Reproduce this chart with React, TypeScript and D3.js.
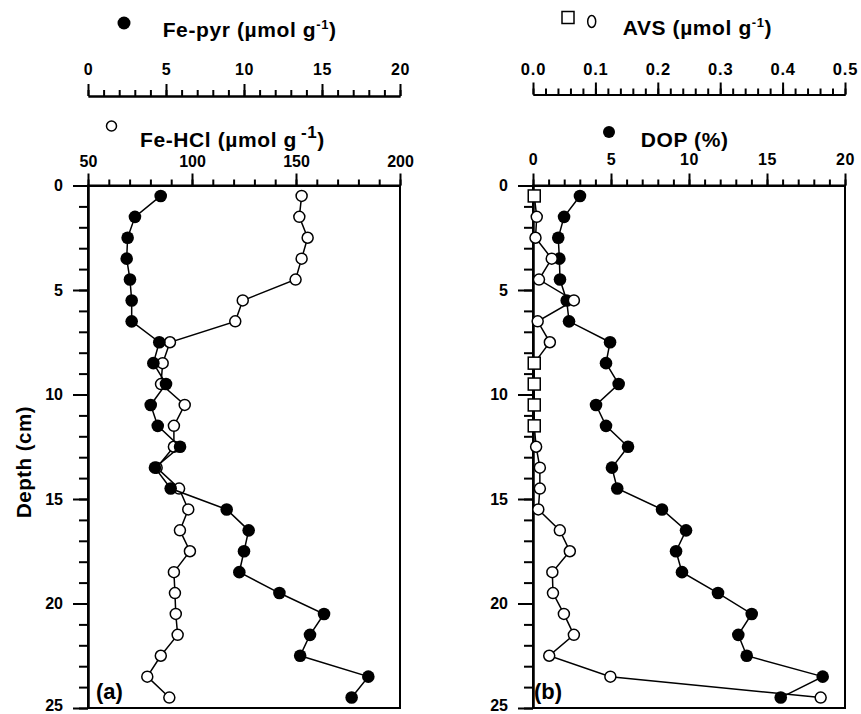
import React, { useEffect, useRef } from 'react';
import * as d3 from 'd3';

// sample depths (cm)
const depths = [0.5, 1.5, 2.5, 3.5, 4.5, 5.5, 6.5, 7.5, 8.5, 9.5, 10.5, 11.5, 12.5, 13.5, 14.5, 15.5, 16.5, 17.5, 18.5, 19.5, 20.5, 21.5, 22.5, 23.5, 24.5];

// panel (a)
const fePyr = [4.66, 3.01, 2.54, 2.48, 2.69, 2.8, 2.8, 4.57, 4.19, 5.0, 4.02, 4.47, 5.9, 4.29, 5.3, 8.89, 10.3, 10.0, 9.7, 12.27, 15.13, 14.23, 13.6, 17.97, 16.9];
const feHcl = [152.7, 151.6, 155.6, 152.7, 149.8, 124.4, 120.8, 89.4, 85.9, 85.1, 96.5, 91.3, 91.3, 83, 93.8, 98.2, 94.2, 99, 91.3, 91.8, 92.2, 93.1, 85, 78.5, 89.1];

// panel (b)
const dop = [3.01, 1.99, 1.62, 1.69, 1.73, 2.16, 2.31, 4.94, 4.68, 5.49, 4.04, 4.68, 6.09, 5.06, 5.4, 8.27, 9.81, 9.17, 9.55, 11.86, 14.02, 13.16, 13.7, 18.57, 15.88];
const avs = [0.002, 0.006, 0.004, 0.03, 0.0096, 0.0655, 0.0075, 0.027, 0.002, 0.002, 0.002, 0.002, 0.005, 0.011, 0.011, 0.0085, 0.043, 0.059, 0.031, 0.032, 0.0495, 0.0655, 0.026, 0.124, 0.461];
// squares = below detection limit
const avsBelowDl = [true, false, false, false, false, false, false, false, true, true, true, true, false, false, false, false, false, false, false, false, false, false, false, false, false];

const depthTicks = [0, 5, 10, 15, 20, 25];
const fePyrTicks = [0, 5, 10, 15, 20];
const feHclTicks = [50, 100, 150, 200];
const avsTicks = [0, 0.1, 0.2, 0.3, 0.4, 0.5];
const dopTicks = [0, 5, 10, 15, 20];

const W = 861;
const H = 714;
const FONT = '"Liberation Sans", Arial, sans-serif';

const App = () => {
  const svgRef = useRef<SVGSVGElement>(null);

  useEffect(() => {
    const svg = d3.select(svgRef.current);
    svg.selectAll('*').remove();
    svg.attr('font-family', FONT).attr('font-weight', 'bold');

    const top = 185.5;
    const bottom = 708;
    const yScale = d3.scaleLinear().domain([0, 25]).range([top, bottom]);

    const styleAxis = (g, size, spacing = 0) => {
      g.selectAll('path, line').attr('stroke', '#000').attr('stroke-width', 2);
      g.selectAll('text')
        .attr('fill', '#000')
        .attr('letter-spacing', spacing)
        .style('font-family', FONT)
        .style('font-weight', 'bold')
        .style('font-size', `${size}px`);
      g.attr('font-family', null).attr('font-size', null);
    };

    // axis with minor and major ticks
    const drawAxis = (parent, axisFn, scale, majors, minors, majorSize, minorSize, pad, fmt, tx, ty, size = 16, spacing = 0) => {
      const gMin = parent.append('g').attr('transform', `translate(${tx},${ty})`);
      gMin.call(axisFn(scale).tickValues(minors).tickSize(minorSize).tickSizeOuter(0).tickFormat(() => ''));
      styleAxis(gMin, size);
      const gMaj = parent.append('g').attr('transform', `translate(${tx},${ty})`);
      gMaj.call(axisFn(scale).tickValues(majors).tickSize(majorSize).tickSizeOuter(0).tickPadding(pad).tickFormat(fmt));
      styleAxis(gMaj, size, spacing);
      return gMaj;
    };

    const title = (x, y, main, sup, supSize, supDy, supDx, tail) => {
      const t = svg.append('text')
        .attr('x', x)
        .attr('y', y)
        .attr('font-size', 21)
        .attr('letter-spacing', 0.6)
        .attr('fill', '#000');
      t.append('tspan').text(main);
      if (sup) {
        t.append('tspan').attr('dx', supDx).attr('dy', -supDy).attr('font-size', supSize).text(sup);
        t.append('tspan').attr('dy', supDy).text(tail);
      }
    };

    const filled = (g, x, y, r) => g.append('circle').attr('cx', x).attr('cy', y).attr('r', r).attr('fill', '#000');
    const open = (g, x, y, r) => g.append('circle').attr('cx', x).attr('cy', y).attr('r', r)
      .attr('fill', '#fff').attr('stroke', '#000').attr('stroke-width', 1.5);

    const drawSeries = (g, values, xScale, marker) => {
      const line = d3.line<number>()
        .x((d) => xScale(d))
        .y((d, i) => yScale(depths[i]));
      g.append('path')
        .attr('d', line(values))
        .attr('fill', 'none')
        .attr('stroke', '#000')
        .attr('stroke-width', 1.5);
      values.forEach((v, i) => marker(g, xScale(v), yScale(depths[i]), i));
    };

    // ---------- panel (a)
    const aL = 88, aR = 400;
    const xPyr = d3.scaleLinear().domain([0, 20]).range([aL, aR]);
    const xHcl = d3.scaleLinear().domain([50, 200]).range([aL, aR]);

    // ---------- panel (b)
    const bL = 533, bR = 845;
    const xDop = d3.scaleLinear().domain([0, 20]).range([bL, bR]);
    const xAvs = d3.scaleLinear().domain([0, 0.5]).range([bL, bR]);

    // frames
    [[aL, aR], [bL, bR]].forEach(([l, r]) => {
      svg.append('rect')
        .attr('x', l).attr('y', top)
        .attr('width', r - l).attr('height', bottom - top)
        .attr('fill', 'none').attr('stroke', '#000').attr('stroke-width', 2);
    });

    // depth axes
    [aL, bL].forEach((l) => {
      const g = drawAxis(svg, d3.axisLeft, yScale, depthTicks, d3.range(0, 26, 1), 15, 9, 10, (d) => `${d}`, l, 0, 16);
      // last label sits at the page edge, nudge it up a little
      g.selectAll('.tick text').filter((d) => d === 25).attr('dy', '0.15em');
    });

    // top axes
    drawAxis(svg, d3.axisTop, xPyr, fePyrTicks, d3.range(0, 21, 1), 12, 6, 9, (d) => `${d}`, 0, 96, 16, 0.5);
    drawAxis(svg, d3.axisTop, xHcl, feHclTicks, d3.range(50, 201, 10), 12, 6, 7, (d) => `${d}`, 0, top, 16, 0);
    drawAxis(svg, d3.axisTop, xAvs, avsTicks, d3.range(0, 0.5001, 0.02), 12, 6, 8, d3.format('.1f'), 0, 94.5, 16.5, 0.8);
    drawAxis(svg, d3.axisTop, xDop, dopTicks, d3.range(0, 21, 1), 12, 6, 9, (d) => `${d}`, 0, top, 16, 0.5);

    // series panel (a)
    const ga = svg.append('g');
    drawSeries(ga, feHcl, xHcl, (g, x, y) => open(g, x, y, 5.5));
    drawSeries(ga, fePyr, xPyr, (g, x, y) => filled(g, x, y, 6.3));

    // series panel (b)
    const gb = svg.append('g');
    drawSeries(gb, dop, xDop, (g, x, y) => filled(g, x, y, 6.3));
    drawSeries(gb, avs, xAvs, (g, x, y, i) => {
      if (avsBelowDl[i]) {
        g.append('rect').attr('x', x - 6).attr('y', y - 6).attr('width', 12).attr('height', 12)
          .attr('fill', '#fff').attr('stroke', '#000').attr('stroke-width', 1.5);
      } else {
        open(g, x, y, 5.5);
      }
    });

    // titles and legend symbols
    filled(svg, 124, 23, 6.5);
    title(162.7, 37.3, 'Fe-pyr (µmol g', '-1', 13, 8, 0, ')');
    open(svg, 111.5, 126, 5);
    title(140, 146.7, 'Fe-HCl (µmol g', '-1', 17, 9, 4, ')');
    svg.append('rect').attr('x', 562).attr('y', 11.5).attr('width', 12).attr('height', 12)
      .attr('fill', '#fff').attr('stroke', '#000').attr('stroke-width', 1.5);
    svg.append('ellipse').attr('cx', 591.7).attr('cy', 21.5).attr('rx', 4).attr('ry', 6)
      .attr('fill', '#fff').attr('stroke', '#000').attr('stroke-width', 1.5);
    title(622.7, 35, 'AVS (µmol g', '-1', 13, 8, 0, ')');
    filled(svg, 609, 132, 6);
    title(640.7, 146.7, 'DOP (%)', null, 0, 0, 0, '');

    // y label
    svg.append('text')
      .attr('transform', 'translate(31,462) rotate(-90)')
      .attr('text-anchor', 'middle')
      .attr('font-size', 20.5)
      .attr('letter-spacing', 0.5)
      .attr('fill', '#000')
      .text('Depth (cm)');

    // panel labels
    svg.append('text').attr('x', 96).attr('y', 699).attr('font-size', 22).attr('fill', '#000').text('(a)');
    svg.append('text').attr('x', 534).attr('y', 699).attr('font-size', 22).attr('fill', '#000').text('(b)');
  }, []);

  return (
    <svg
      ref={svgRef}
      width={W}
      height={H}
      style={{ position: 'absolute', left: 0, top: 0, background: '#fff' }}
    />
  );
};

export default App;
